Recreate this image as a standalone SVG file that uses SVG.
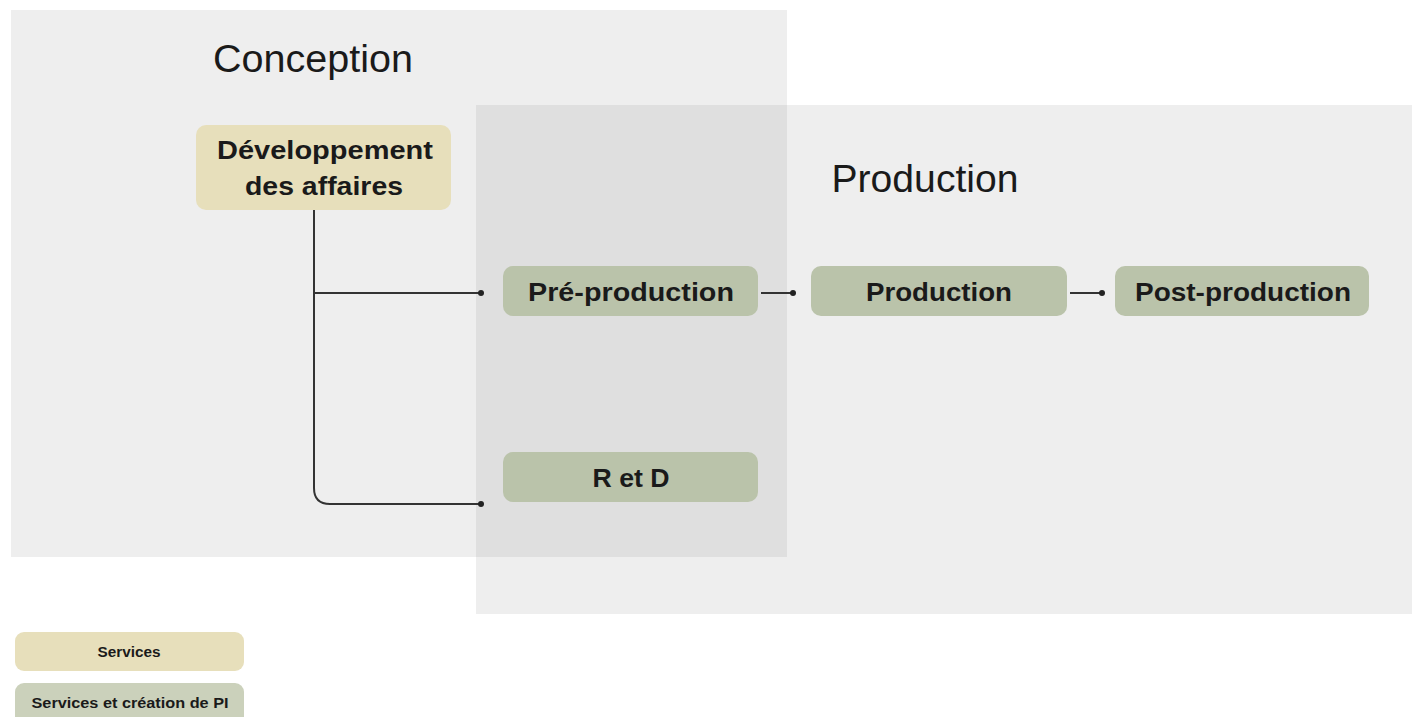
<svg xmlns="http://www.w3.org/2000/svg" width="1412" height="717" viewBox="0 0 1412 717">
<style>
.t{font-family:"Liberation Sans",Arial,sans-serif;fill:#1a1a1a;text-anchor:middle}
.title{font-size:39px}
.nt{font-size:26px;font-weight:bold}
.lt{font-size:14px;font-weight:bold}
.svc{fill:#e7dfbb}
.ip{fill:#bac3aa}
.ln{fill:none;stroke:#333;stroke-width:2}
</style>
<defs>
<marker id="dot" viewBox="0 0 6 6" refX="3" refY="3" markerWidth="6" markerHeight="6" markerUnits="userSpaceOnUse">
<circle cx="3" cy="3" r="3" fill="#222"/>
</marker>
</defs>
<rect width="1412" height="717" fill="#fff"/>
<g id="group-conception">
<rect x="11" y="10" width="776" height="547" fill="#eeeeee"/>
</g>
<g id="group-production">
<rect x="476" y="105" width="936" height="509" fill="#eeeeee"/>
<rect x="476" y="105" width="311" height="452" fill="#dfdfdf"/>
</g>
<text class="t title" x="313" y="72" textLength="200" lengthAdjust="spacingAndGlyphs">Conception</text>
<text class="t title" x="925" y="192" textLength="187" lengthAdjust="spacingAndGlyphs">Production</text>
<g id="connectors">
<path class="ln" d="M314,210 V488 Q314,504 330,504 H481" marker-end="url(#dot)"/>
<path class="ln" d="M314,293 H481" marker-end="url(#dot)"/>
<path class="ln" d="M761,293 H793" marker-end="url(#dot)"/>
<path class="ln" d="M1070,293 H1102" marker-end="url(#dot)"/>
</g>
<g id="node-dev">
<rect class="svc" x="196" y="125" width="255" height="85" rx="10"/>
<text class="t nt" x="325" y="159" textLength="216" lengthAdjust="spacingAndGlyphs">Développement</text>
<text class="t nt" x="324" y="195" textLength="158" lengthAdjust="spacingAndGlyphs">des affaires</text>
</g>
<g id="node-preprod">
<rect class="ip" x="503" y="266" width="255" height="50" rx="10"/>
<text class="t nt" x="631" y="301" textLength="206" lengthAdjust="spacingAndGlyphs">Pré-production</text>
</g>
<g id="node-prod">
<rect class="ip" x="811" y="266" width="256" height="50" rx="10"/>
<text class="t nt" x="939" y="301" textLength="146" lengthAdjust="spacingAndGlyphs">Production</text>
</g>
<g id="node-postprod">
<rect class="ip" x="1115" y="266" width="254" height="50" rx="10"/>
<text class="t nt" x="1243" y="301" textLength="216" lengthAdjust="spacingAndGlyphs">Post-production</text>
</g>
<g id="node-rd">
<rect class="ip" x="503" y="452" width="255" height="50" rx="10"/>
<text class="t nt" x="631" y="487" textLength="77" lengthAdjust="spacingAndGlyphs">R et D</text>
</g>
<g id="legend-services">
<rect class="svc" x="15" y="632" width="229" height="39" rx="9"/>
<text class="t lt" x="129" y="657" textLength="63" lengthAdjust="spacingAndGlyphs">Services</text>
</g>
<g id="legend-ip">
<rect x="15" y="683" width="229" height="45" rx="9" fill="#cbd1bb"/>
<text class="t lt" x="130" y="708" textLength="197" lengthAdjust="spacingAndGlyphs">Services et création de PI</text>
</g>
</svg>
